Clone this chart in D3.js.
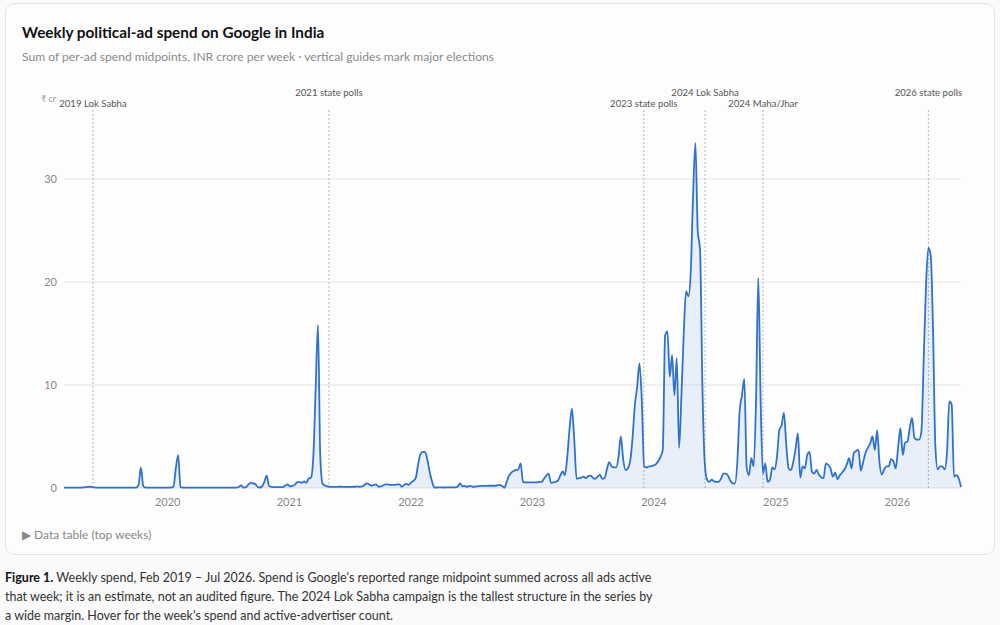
<!DOCTYPE html>
<html>
<head>
<meta charset="utf-8">
<script src="https://cdn.jsdelivr.net/npm/d3@7"></script>
<style>
  html, body { margin: 0; padding: 0; background: #fafafa; font-family: Lato, "Open Sans", sans-serif; }
  #card { position: absolute; left: 5px; top: 3px; width: 988px; height: 550px; background: #fdfdfd;
          border: 1px solid #e4e4e4; border-radius: 10px; }
  #chart { position: absolute; left: 0; top: 0; }
  #caption { position: absolute; left: 5px; top: 568px; font-size: 12.5px; line-height: 19px; color: #333; margin: 0; white-space: nowrap; }
  #caption b { color: #111; }
  svg text { font-family: Lato, "Open Sans", sans-serif; }
</style>
</head>
<body>
<div id="card"></div>
<svg id="chart" width="1000" height="560"></svg>
<p id="caption"><b>Figure 1.</b> Weekly spend, Feb 2019 – Jul 2026. Spend is Google's reported range midpoint summed across all ads active<br>that week; it is an estimate, not an audited figure. The 2024 Lok Sabha campaign is the tallest structure in the series by<br>a wide margin. Hover for the week's spend and active-advertiser count.</p>
<script>
// first week in the series, then one value per week (INR crore)
var firstWeek = "2019-02-25";

var spend2019 = [0.03,0.03,0.03,0.03,0.03,0.03,0.03,0.04,0.05,0.08,0.1,0.12,0.1,0.06,0.04,0.03,0.03,0.03,0.03,0.03,0.03,0.03,0.03,0.03,0.03,0.03,0.03,0.03,0.03,0.03,0.04,0.05,0.3,2.0,0.2,0.04,0.03,0.03,0.03,0.03,0.03,0.03,0.03,0.03,0.03];
var spend2020 = [0.03,0.04,0.15,1.9,3.2,0.1,0.04,0.03,0.03,0.03,0.03,0.03,0.03,0.03,0.03,0.03,0.03,0.03,0.03,0.03,0.03,0.03,0.03,0.03,0.03,0.03,0.03,0.03,0.03,0.03,0.1,0.25,0.05,0.06,0.3,0.5,0.45,0.4,0.15,0.05,0.15,0.6,1.2,0.2,0.1,0.08,0.08,0.08,0.08,0.08,0.25,0.35];
var spend2021 = [0.15,0.2,0.3,0.55,0.6,0.5,0.65,0.5,0.9,1.0,3.0,9.5,15.8,3.0,0.4,0.25,0.15,0.12,0.1,0.1,0.1,0.12,0.12,0.1,0.1,0.12,0.1,0.12,0.12,0.15,0.12,0.15,0.3,0.45,0.35,0.22,0.3,0.35,0.12,0.15,0.25,0.35,0.35,0.3,0.3,0.3,0.35,0.35,0.12,0.3,0.4,0.3];
var spend2022 = [0.55,0.7,1.0,2.3,3.3,3.5,3.5,2.7,1.5,0.6,0.05,0.05,0.06,0.06,0.05,0.06,0.07,0.06,0.06,0.07,0.15,0.45,0.15,0.2,0.12,0.2,0.15,0.12,0.15,0.18,0.2,0.2,0.2,0.22,0.22,0.22,0.22,0.25,0.3,0.2,0.03,0.6,1.2,1.5,1.65,1.75,1.8,2.4,0.6,0.55,0.55,0.55];
var spend2023 = [0.55,0.55,0.55,0.6,0.6,0.9,1.2,1.4,0.5,0.55,0.6,0.7,1.2,1.6,1.25,3.0,5.8,7.7,4.7,0.9,0.95,1.0,1.1,0.95,1.15,1.2,1.0,0.9,1.1,1.3,0.9,0.95,1.8,2.5,2.1,2.0,2.0,3.0,5.0,2.8,1.75,1.9,2.6,4.8,8.0,9.8,12.1,8.5,2.1,2.0,2.1,2.1];
var spend2024 = [2.2,2.3,2.6,3.0,3.7,14.8,15.2,10.8,12.9,9.0,12.6,3.9,9.0,15.0,19.1,18.6,21.0,28.3,33.5,25.0,23.1,10.0,2.5,0.8,0.6,0.8,0.65,0.6,0.6,0.9,1.4,1.4,1.2,0.7,0.45,0.45,2.5,7.5,9.0,10.6,2.0,1.25,2.9,2.1,8.2,20.4,8.5,1.4,2.4,0.6,0.8,2.0];
var spend2025 = [1.8,3.0,5.6,6.1,7.3,4.2,1.9,1.75,2.5,3.8,5.3,1.0,2.1,1.9,3.2,3.5,1.6,1.4,1.75,1.3,1.05,0.95,2.4,2.25,1.9,1.1,1.5,0.85,1.25,1.5,1.8,2.3,2.9,1.9,3.4,3.6,3.7,1.7,2.5,3.4,3.9,4.3,5.0,3.7,5.6,2.5,1.3,1.8,2.1,2.1,2.8,2.6];
var spend2026 = [1.9,3.9,5.8,3.2,4.4,4.5,5.8,6.8,4.9,4.7,4.7,5.5,12.5,19.8,23.3,22.6,15.3,4.0,1.8,2.1,2.1,1.8,3.5,8.4,8.1,1.1,1.25,0.95,0.1];

var yTicks = [0, 10, 20, 30];

var elections = [
  { name: "2019 Lok Sabha", date: "2019-05-23" },
  { name: "2021 state polls", date: "2021-05-01" },
  { name: "2023 state polls", date: "2023-12-03" },
  { name: "2024 Lok Sabha", date: "2024-06-04" },
  { name: "2024 Maha/Jhar", date: "2024-11-25" },
  { name: "2026 state polls", date: "2026-04-06" }
];

var parse = d3.timeParse("%Y-%m-%d");
var values = [].concat(spend2019, spend2020, spend2021, spend2022, spend2023, spend2024, spend2025, spend2026);
var start = parse(firstWeek);
var weeks = values.map(function(v, i) {
  return { date: d3.timeWeek.offset(start, i), spend: v };
});

var svg = d3.select("#chart");
var left = 64, right = 961, bottom = 488;

var x = d3.scaleTime()
    .domain([weeks[0].date, weeks[weeks.length - 1].date])
    .range([left, right]);
var y = d3.scaleLinear().domain([0, 30]).range([bottom, 179]);

// title + subtitle
svg.append("text").attr("x", 22).attr("y", 38)
    .style("font-size", "15.3px").style("font-weight", "700").style("fill", "#111")
    .text("Weekly political-ad spend on Google in India");
svg.append("text").attr("x", 22).attr("y", 61)
    .style("font-size", "12.1px").style("fill", "#8a8a8a")
    .text("Sum of per-ad spend midpoints, INR crore per week · vertical guides mark major elections");

// gridlines
svg.append("g").selectAll("line").data(yTicks).enter().append("line")
    .attr("x1", left).attr("x2", right)
    .attr("y1", function(d) { return y(d); }).attr("y2", function(d) { return y(d); })
    .style("stroke", "#e6e4df").style("stroke-width", 1);

var yAxis = svg.append("g").attr("transform", "translate(" + (left - 7) + ",0)")
    .call(d3.axisLeft(y).tickValues(yTicks).tickSize(0).tickPadding(0));
yAxis.select(".domain").remove();
yAxis.selectAll("text").style("font-size", "11px").style("fill", "#888").style("font-family", "Lato, sans-serif");

svg.append("text").attr("x", 56).attr("y", 102).attr("text-anchor", "end")
    .style("font-size", "9px").style("fill", "#999").text("₹ cr");

var xAxis = svg.append("g").attr("transform", "translate(0," + (bottom + 10) + ")")
    .call(d3.axisBottom(x).ticks(d3.timeYear.every(1)).tickFormat(d3.timeFormat("%Y")).tickSize(0).tickPadding(0));
xAxis.select(".domain").remove();
xAxis.selectAll("text").style("font-size", "11px").style("fill", "#888").style("font-family", "Lato, sans-serif");

// election guides
var guides = svg.append("g").selectAll("g").data(elections).enter().append("g");
guides.append("line")
    .attr("x1", function(d) { return x(parse(d.date)); })
    .attr("x2", function(d) { return x(parse(d.date)); })
    .attr("y1", 110).attr("y2", bottom)
    .style("stroke", "#b5b5b5").style("stroke-width", 1).style("stroke-dasharray", "2,2");
guides.append("text")
    .attr("x", function(d) { return x(parse(d.date)); })
    .attr("y", function(d, i) { return i % 2 == 0 ? 107 : 96; })
    .attr("text-anchor", "middle")
    .style("font-size", "9.6px").style("fill", "#555")
    .text(function(d) { return d.name; });

// area + line
var area = d3.area().curve(d3.curveMonotoneX)
    .x(function(d) { return x(d.date); })
    .y0(bottom).y1(function(d) { return y(d.spend); });
var line = d3.line().curve(d3.curveMonotoneX)
    .x(function(d) { return x(d.date); })
    .y(function(d) { return y(d.spend); });

svg.append("path").datum(weeks).attr("d", area)
    .style("fill", "#2f72cc").style("fill-opacity", 0.1);
svg.append("path").datum(weeks).attr("d", line)
    .style("fill", "none").style("stroke", "#2f72cc").style("stroke-width", 1.8)
    .style("stroke-linejoin", "round");

svg.append("text").attr("x", 22).attr("y", 539)
    .style("font-size", "12px").style("fill", "#888")
    .text("▶  Data table (top weeks)");
</script>
</body>
</html>
